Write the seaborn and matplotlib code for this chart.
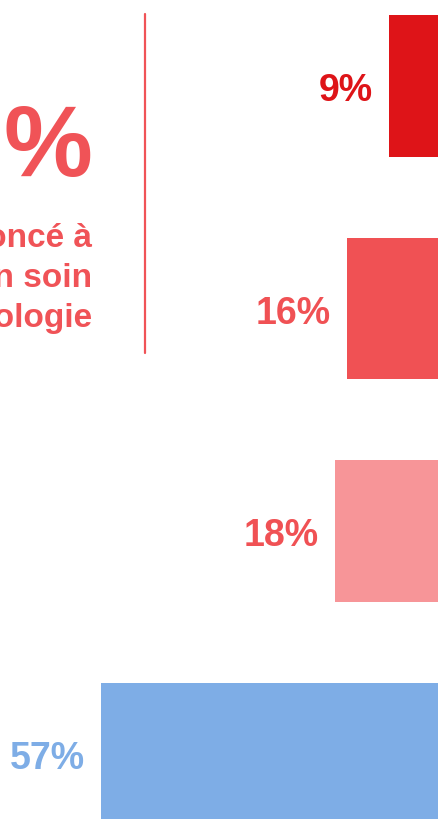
import matplotlib
matplotlib.use("Agg")
import matplotlib.pyplot as plt
from matplotlib.lines import Line2D
import seaborn as sns
import pandas as pd

# Survey answers and their shares (%)
categories = ["Oui, souvent", "Oui, parfois", "Oui, rarement", "Non, jamais"]
shares = [9, 16, 18, 57]
bar_colors = ["#DE1418", "#F05154", "#F79598", "#7EADE6"]
label_colors = ["#DE1418", "#F05154", "#F05154", "#7EADE6"]

headline_number = "43"
headline_lines = ["ont renoncé à", "un soin", "en gynécologie"]
accent = "#F05357"

sns.set_theme(style="white")
plt.rcParams["font.family"] = ["Liberation Sans", "DejaVu Sans"]

W, H, DPI = 438, 819, 100
fig = plt.figure(figsize=(W / DPI, H / DPI), dpi=DPI)
ax = fig.add_axes([0, 0, 1, 1])

df = pd.DataFrame({"cat": categories, "share": shares})
sns.barplot(data=df, x="share", y="cat", hue="cat", palette=bar_colors,
            orient="h", width=0.635, saturation=1, legend=False,
            linewidth=0, ax=ax)

# bars grow leftwards from just beyond the right edge (6 px per percent)
px_per_pct = 6.0
origin_px = 443.0
ax.set_xlim(origin_px / px_per_pct, (origin_px - W) / px_per_pct)
row_px = 222.5
first_center_px = 86.0
ax.set_ylim((H - first_center_px) / row_px, -first_center_px / row_px)
ax.axis("off")

for i, (v, c) in enumerate(zip(shares, label_colors)):
    ax.text(v + 16 / px_per_pct, i + 15 / row_px, f"{v}%", ha="right",
            va="baseline", fontsize=27, fontweight="bold", color=c)

# headline block on the left: the number and its percent sign, set tightly
fig.text(92 / W, 1 - 176 / H, "%", ha="right", va="baseline",
         fontsize=72, fontweight="bold", color=accent)
fig.text(3 / W, 1 - 176 / H, headline_number, ha="right", va="baseline",
         fontsize=72, fontweight="bold", color=accent)
for k, line in enumerate(headline_lines):
    fig.text(92 / W, 1 - (247 + 40 * k) / H, line, ha="right", va="baseline",
             fontsize=24, fontweight="bold", color=accent)

fig.add_artist(Line2D([145 / W, 145 / W], [1 - 14 / H, 1 - 353 / H],
                      transform=fig.transFigure, color=accent, lw=1.6))

fig.savefig("out.png", dpi=DPI)
